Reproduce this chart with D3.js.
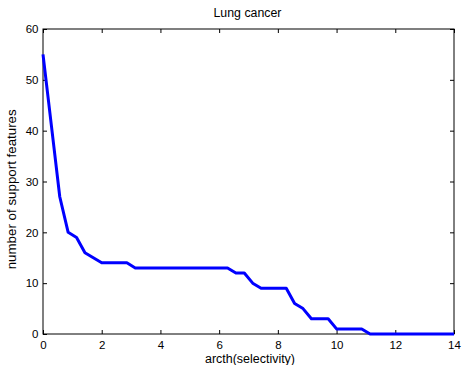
<!DOCTYPE html>
<html><head><meta charset="utf-8">
<script src="https://cdn.jsdelivr.net/npm/d3@7"></script>
<style>
body{margin:0;background:#fff;}
text{font-family:"Liberation Sans",Arial,sans-serif;fill:#000;}
</style></head>
<body><svg id="c" width="462" height="365"></svg>
<script>
const xValues = [0, 0.286, 0.571, 0.857, 1.143, 1.429, 1.714, 2.0, 2.857, 3.143, 6.286, 6.571, 6.857, 7.143, 7.429, 8.286, 8.571, 8.857, 9.143, 9.714, 10.0, 10.857, 11.143, 14];
const yValues = [55, 41, 27, 20, 19, 16, 15, 14, 14, 13, 13, 12, 12, 10, 9, 9, 6, 5, 3, 3, 1, 1, 0, 0];
const xTicks = [0, 2, 4, 6, 8, 10, 12, 14];
const yTicks = [0, 10, 20, 30, 40, 50, 60];
const title = "Lung cancer";
const xLabel = "arcth(selectivity)";
const yLabel = "number of support features";

const svg = d3.select("#c");
const L = 43, R = 454, T = 29, B = 334;
const x = d3.scaleLinear().domain([0, 14]).range([L, R]);
const y = d3.scaleLinear().domain([0, 60]).range([B, T]);

const tfs = "11.5px";
const lfs = "12.5px";
svg.append("rect").attr("x", L).attr("y", T).attr("width", R - L).attr("height", B - T)
  .attr("fill", "none").attr("stroke", "#000").attr("stroke-width", 1);

const tl = 4;
const gx = svg.append("g").attr("transform", `translate(0,${B})`)
  .call(d3.axisBottom(x).tickValues(xTicks).tickSize(-tl).tickPadding(7).tickFormat(d3.format("d")));
gx.select(".domain").remove();
gx.selectAll("text").style("font-size", tfs).attr("font-family", null)
  .attr("dy", null).attr("y", 14.7);
const gxt = svg.append("g").attr("transform", `translate(0,${T})`)
  .call(d3.axisTop(x).tickValues(xTicks).tickSize(-tl).tickFormat(""));
gxt.select(".domain").remove();
const gy = svg.append("g").attr("transform", `translate(${L},0)`)
  .call(d3.axisLeft(y).tickValues(yTicks).tickSize(-tl).tickFormat(d3.format("d")));
gy.select(".domain").remove();
gy.selectAll("text").style("font-size", tfs).attr("font-family", null).attr("x", -4.5);
const gyr = svg.append("g").attr("transform", `translate(${R},0)`)
  .call(d3.axisRight(y).tickValues(yTicks).tickSize(-tl).tickFormat(""));
gyr.select(".domain").remove();

const data = xValues.map((v, i) => [v, yValues[i]]);
svg.append("path").datum(data)
  .attr("fill", "none").attr("stroke", "#0000ff").attr("stroke-width", 3)
  .attr("stroke-linejoin", "round")
  .attr("d", d3.line().x(d => x(d[0])).y(d => y(d[1])));

svg.append("text").attr("x", 247.5).attr("y", 17.3).attr("text-anchor", "middle")
  .style("font-size", lfs).attr("textLength", 68).attr("lengthAdjust", "spacingAndGlyphs").text(title);
svg.append("text").attr("x", 250).attr("y", 362.5).attr("text-anchor", "middle")
  .style("font-size", lfs).attr("textLength", 90).attr("lengthAdjust", "spacingAndGlyphs").text(xLabel);
svg.append("text").attr("transform", `translate(16,189.3) rotate(-90)`)
  .attr("text-anchor", "middle").style("font-size", lfs)
  .attr("textLength", 160).attr("lengthAdjust", "spacingAndGlyphs").text(yLabel);
</script></body></html>
